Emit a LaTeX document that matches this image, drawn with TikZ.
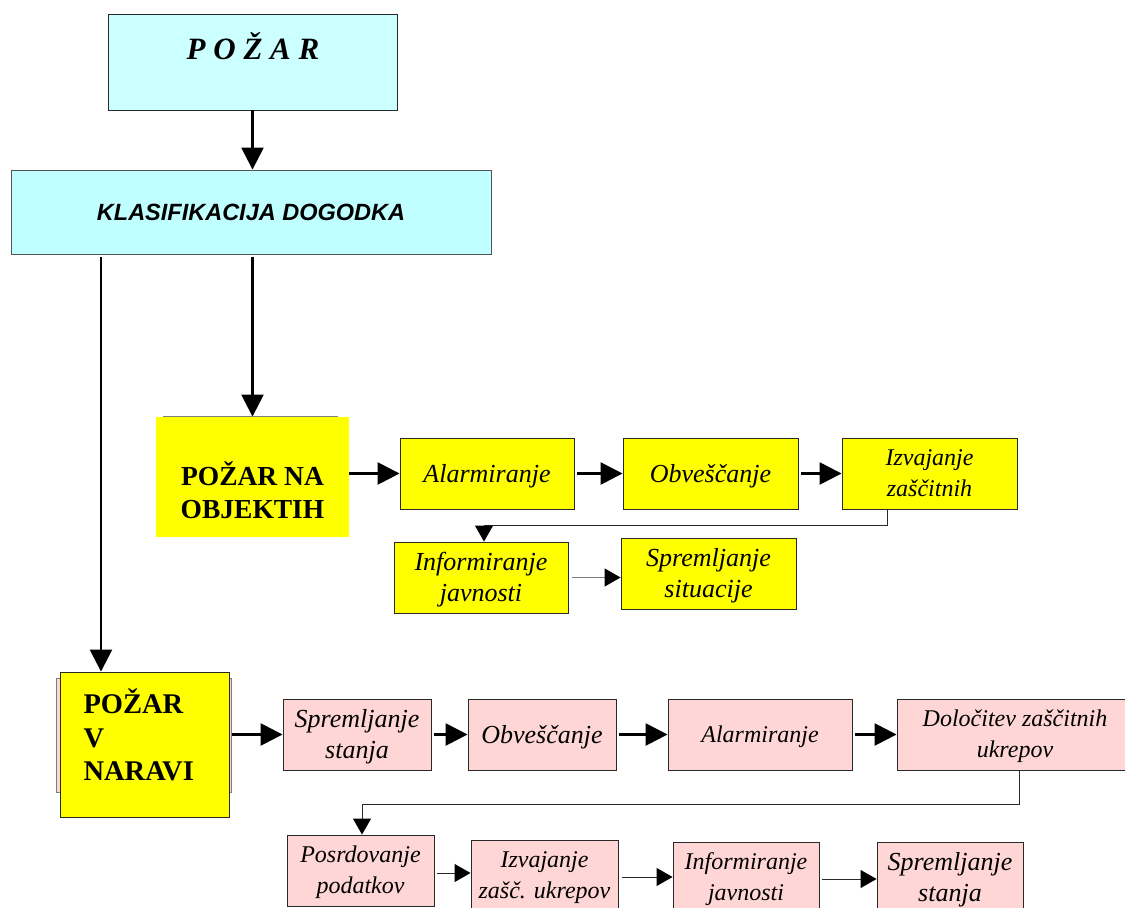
\documentclass[tikz,border=0pt]{standalone}
\usepackage{fontspec}
\setmainfont{Liberation Serif}
\newfontfamily\arialf{Liberation Sans}
\usetikzlibrary{arrows.meta}
\definecolor{cyanbox}{RGB}{204,255,255}
\definecolor{cyanboxb}{RGB}{192,255,255}
\definecolor{ylw}{RGB}{255,255,0}
\definecolor{pinkbox}{RGB}{255,214,214}
\definecolor{edge}{RGB}{40,40,40}
\begin{document}
\begin{tikzpicture}[x=1pt,y=-1pt,
  bx/.style 2 args={draw=edge,line width=0.9pt,minimum width=#1,minimum height=#2,inner sep=0pt,align=center},
  stp/.style={font=\fontsize{26}{31}\selectfont\itshape,text depth=1pt},
  stps/.style={font=\fontsize{24}{31}\selectfont\itshape,text depth=1pt},
  yb/.style={fill=ylw},
  pb/.style={fill=pinkbox},
  thk/.style={line width=2.6pt,-{Triangle[length=22pt,width=22pt]}},
  thn/.style={line width=1pt,draw=edge,-{Triangle[length=16pt,width=18pt,color=black]}},
  boldt/.style={font=\fontsize{27.5}{33}\selectfont\bfseries}
]
\clip (0,0) rectangle (1125,908);
\fill[white] (0,0) rectangle (1125,908);

% top
\node[bx={289}{96},fill=cyanbox] (pozar) at (252.5,62) {};
\node[font=\fontsize{31}{36}\selectfont\bfseries\itshape] (pozart) at (253,46) {P O Ž A R};
\node[bx={480}{84},fill=cyanboxb,draw=edge!80,
      font=\fontsize{23.5}{28}\selectfont\arialf\bfseries\itshape] (klas) at (251,212) {KLASIFIKACIJA DOGODKA};

% fire on objects
\node[bx={193}{120},fill=ylw,draw=none] (obj) at (252.5,477) {};
\draw[gray,line width=0.8pt] (163,416.5) -- (338,416.5);
\node[boldt,align=center] (objt) at (252.5,490) {POŽAR NA\\OBJEKTIH};

\node[bx={174}{71},yb,stp] (a1) at (487,473.5) {Alarmiranje};
\node[bx={175}{71},yb,stp] (a2) at (710.5,473.5) {Obveščanje};
\node[bx={175}{71},yb,stps] (a3) at (929.5,473.5) {Izvajanje\\zaščitnih};
\node[bx={174}{71},yb,stp] (a4) at (481,577.5) {Informiranje\\javnosti};
\node[bx={175}{71},yb,stp] (a5) at (708.5,573.5) {Spremljanje\\situacije};

% fire in nature
\node[bx={175}{114},pb,draw=edge!60] (navb) at (143.5,735) {};
\node[bx={169}{145},yb] (narav) at (144.5,744.5) {};
\node[anchor=west,align=left,font=\fontsize{28.5}{33.5}\selectfont\bfseries] (naravt) at (80,735) {POŽAR\\V\\NARAVI};

\node[bx={148}{71},pb,stp] (b1) at (357,734.5) {Spremljanje\\stanja};
\node[bx={148}{71},pb,stp] (b2) at (542,734.5) {Obveščanje};
\node[bx={184}{71},pb,stps] (b3) at (760,734.5) {Alarmiranje};
\node[bx={236}{71},pb,stps] (b4) at (1015,734.5) {Določitev zaščitnih\\ukrepov};

\node[bx={147}{71},pb,stps] (c1) at (360.5,870.5) {Posrdovanje\\podatkov};
\node[bx={147}{71},pb,stps] (c2) at (544.5,875.5) {Izvajanje\\zašč. ukrepov};
\node[bx={146}{71},pb,stps] (c3) at (746,877.5) {Informiranje\\javnosti};
\node[bx={146}{71},pb,stp] (c4) at (950,877.5) {Spremljanje\\stanja};

% connectors
\draw[thk] (pozar.south) -- (pozar.south |- klas.north);
\draw[thk,shorten <=3pt] (klas.south -| obj.north) -- (obj.north);
\coordinate (kl) at (101,254);
\draw[thk,shorten <=3pt] (kl) -- (kl |- narav.north);

\draw[thk] (obj.east |- a1.west) -- (a1.west);
\draw[thk,shorten <=3pt] (a1.east) -- (a2.west);
\draw[thk,shorten <=3pt] (a2.east) -- (a3.west);
\draw[thn] ([xshift=-42.5pt]a3.south) -- ++(0,16) -| ([xshift=3pt]a4.north);
\draw[thn,draw=gray,shorten <=4pt] (a4.east) -- (a4.east -| a5.west);

\draw[thk,shorten <=3pt] (narav.east |- b1.west) -- (b1.west);
\draw[thk,shorten <=3pt] (b1.east) -- (b2.west);
\draw[thk,shorten <=3pt] (b2.east) -- (b3.west);
\draw[thk,shorten <=3pt] (b3.east) -- (b4.west);
\draw[thn] ([xshift=4pt]b4.south) -- ++(0,34) -| ([xshift=1.5pt]c1.north);
\draw[thn,shorten <=3pt] ([yshift=-2.5pt]c1.east) -- ([yshift=-2.5pt]c1.east -| c2.west);
\draw[thn,shorten <=4pt] ([yshift=-1.5pt]c2.east) -- ([yshift=-1.5pt]c2.east -| c3.west);
\draw[thn,shorten <=3pt] ([yshift=-1.5pt]c3.east) -- ([yshift=-1.5pt]c3.east -| c4.west);
\end{tikzpicture}
\end{document}
